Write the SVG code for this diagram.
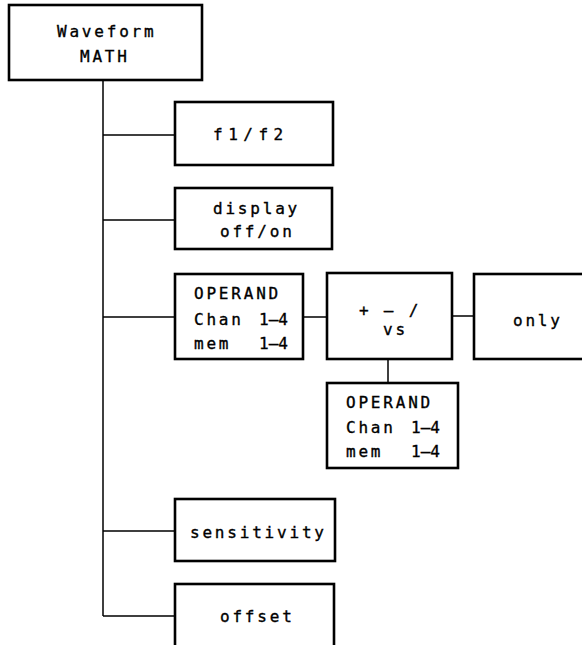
<svg xmlns="http://www.w3.org/2000/svg" width="582" height="645" viewBox="0 0 582 645">
<style>
.box{fill:#fff;stroke:#000;stroke-width:2.6}
.con{fill:none;stroke:#000;stroke-width:1.5}
text{font-family:"DejaVu Sans Mono","Liberation Mono",monospace;font-size:16px;letter-spacing:2.8px;fill:#000;stroke:#000;stroke-width:0.35}
.r{letter-spacing:0}
.w{letter-spacing:5.5px}
</style>
<rect width="582" height="645" fill="#fff"/>
<g id="connectors">
<path class="con" d="M103 80V616M103 135H175M103 220H175M103 317H175M103 531H175M103 616H175M303 317H327M452 316H474M388 359V383"/>
</g>
<g id="waveform-math">
<rect class="box" x="9" y="5" width="193" height="75"/>
<text x="57" y="37">Waveform</text>
<text x="80" y="62">MATH</text>
</g>
<g id="f1f2">
<rect class="box" x="175" y="102" width="158" height="63"/>
<text class="w" x="213" y="140">f1/f2</text>
</g>
<g id="display">
<rect class="box" x="175" y="188" width="157" height="61"/>
<text x="213" y="214">display</text>
<text x="220" y="237">off/on</text>
</g>
<g id="operand1">
<rect class="box" x="175" y="274" width="128" height="85"/>
<text x="194" y="299">OPERAND</text>
<text x="194" y="325">Chan <tspan class="r" x="259">1–4</tspan></text>
<text x="194" y="349">mem <tspan class="r" x="259">1–4</tspan></text>
</g>
<g id="operator">
<rect class="box" x="327" y="273" width="125" height="86"/>
<text x="359" y="316">+ – /</text>
<text x="383" y="335">vs</text>
</g>
<g id="only">
<rect class="box" x="474" y="274" width="120" height="85"/>
<text x="513" y="326">only</text>
</g>
<g id="operand2">
<rect class="box" x="327" y="383" width="131" height="85"/>
<text x="346" y="408">OPERAND</text>
<text x="346" y="433">Chan <tspan class="r" x="411">1–4</tspan></text>
<text x="346" y="457">mem <tspan class="r" x="411">1–4</tspan></text>
</g>
<g id="sensitivity">
<rect class="box" x="175" y="499" width="160" height="62"/>
<text x="190" y="538">sensitivity</text>
</g>
<g id="offset">
<rect class="box" x="175" y="584" width="159" height="70"/>
<text x="220" y="622">offset</text>
</g>
</svg>
